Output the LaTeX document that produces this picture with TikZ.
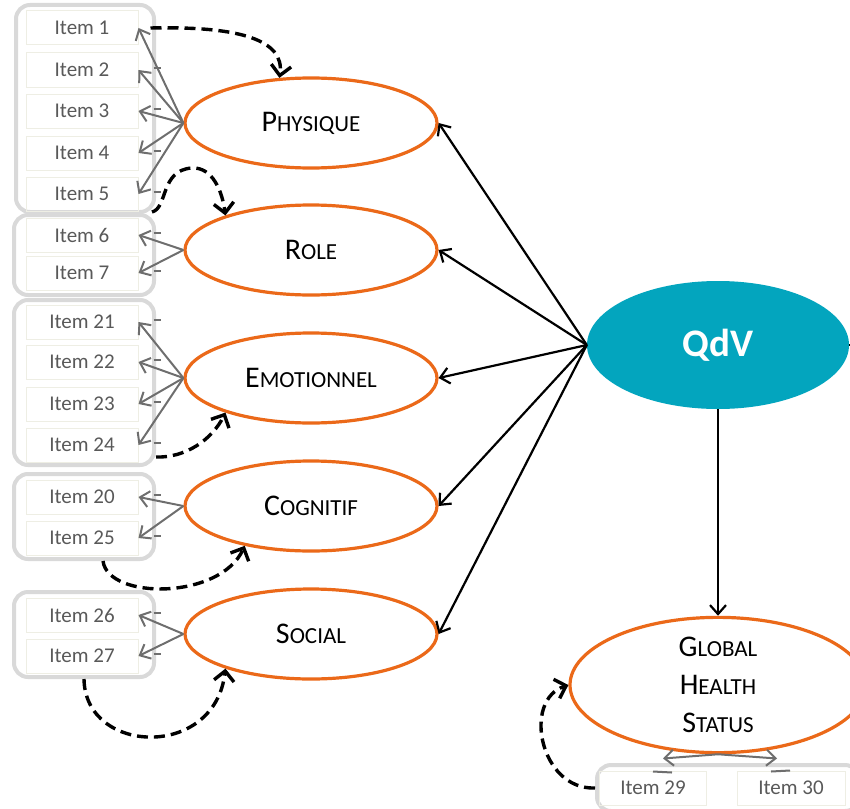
\documentclass[tikz,border=0pt]{standalone}
\usepackage{fontspec}
\setmainfont{Carlito}
\usetikzlibrary{shapes.geometric,arrows.meta}
\definecolor{qdvteal}{RGB}{3,165,190}
\definecolor{facorange}{RGB}{235,105,25}
\definecolor{boxgray}{RGB}{217,217,217}
\definecolor{itemgray}{RGB}{89,89,89}
\definecolor{itemline}{RGB}{238,238,228}
\definecolor{loadgray}{RGB}{110,110,110}
\newcommand{\smcap}[2]{{\fontsize{30}{38}\selectfont #1}{\fontsize{23}{38}\selectfont #2}}

\begin{document}
\begin{tikzpicture}[x=1pt,y=-1pt,>={Straight Barb[length=9pt,width=16pt]},
    factor/.style={ellipse,draw=facorange,line width=3.2pt,fill=white,minimum width=252pt,minimum height=90pt,inner sep=0pt,font=\fontsize{30}{38}\selectfont},
    latent/.style={ellipse,fill=qdvteal,minimum width=262pt,minimum height=128pt,text=white,font=\fontsize{39}{44}\selectfont\bfseries},
    itemgroup/.style={draw=boxgray,line width=4pt,rounded corners=14pt,inner sep=0pt},
    itembox/.style={draw=itemline,line width=1pt,minimum width=112pt,minimum height=34pt,inner sep=0pt,text=itemgray,font=\fontsize{21}{25}\selectfont},
    struct/.style={->,line width=2.2pt},
    load/.style={->,draw=loadgray,line width=2pt},
    resid/.style={draw=loadgray,line width=2pt},
    corr/.style={->,line width=3.4pt,dash pattern=on 11pt off 6pt,>={Straight Barb[length=10pt,width=20pt]}}]
    \useasboundingbox (0,0) rectangle (850,808);
    \clip (0,0) rectangle (850,808);

    % item groups
    \node[itemgroup,minimum width=138pt,minimum height=207pt] (g1) at (85,108.5) {};
    \node[itemgroup,minimum width=140pt,minimum height=80pt] (g2) at (84,255) {};
    \node[itemgroup,minimum width=140pt,minimum height=165pt] (g3) at (84,382.5) {};
    \node[itemgroup,minimum width=140pt,minimum height=85pt] (g4) at (84,516.5) {};
    \node[itemgroup,minimum width=140pt,minimum height=85pt] (g5) at (84,634.5) {};
    \node[itemgroup,minimum width=262pt,minimum height=46pt] (gb) at (728,788) {};

    % items
    \foreach \n/\y in {1/28,2/70,3/111,4/153,5/194,6/235,7/273,21/322,22/362,23/404,24/445,20/497,25/538,26/615,27/656}
        \node[itembox] (i\n) at (82,\y) {Item \n};
    \node[itembox,minimum width=107pt] (i29) at (653,788) {Item 29};
    \node[itembox,minimum width=108pt] (i30) at (791,788) {Item 30};

    % factors
    \node[factor] (phys) at (311,123) {\smcap{P}{HYSIQUE}};
    \node[factor] (role) at (311,250) {\smcap{R}{OLE}};
    \node[factor] (emot) at (311,378) {\smcap{E}{MOTIONNEL}};
    \node[factor] (cogn) at (311,506) {\smcap{C}{OGNITIF}};
    \node[factor] (soci) at (311,634) {\smcap{S}{OCIAL}};
    \node[latent] (qdv) at (718,345) {QdV};
    \node[factor,minimum width=296pt,minimum height=126pt,align=center] (ghs) at (718,685) {\smcap{G}{LOBAL}\\\smcap{H}{EALTH}\\\smcap{S}{TATUS}};

    % loadings
    \foreach \n in {1,...,5} \draw[load] (phys.west) -- (i\n.east);
    \foreach \n in {6,7} \draw[load] (role.west) -- (i\n.east);
    \foreach \n in {21,...,24} \draw[load] (emot.west) -- (i\n.east);
    \foreach \n in {20,25} \draw[load] (cogn.west) -- (i\n.east);
    \foreach \n in {26,27} \draw[load] (soci.west) -- (i\n.east);
    \foreach \n in {2,3,4,5,6,7,21,22,23,24,20,25,26,27}
        \draw[resid] ([xshift=15pt,yshift=2pt]i\n.east) -- ++(7,0);
    \draw[load] (ghs.south) -- ([xshift=10pt,yshift=12pt]i29.north);
    \draw[load] (ghs.south) -- ([xshift=-14pt,yshift=12pt]i30.north);
    \draw[resid] ([xshift=0pt,yshift=-1pt]i29.north) -- ++(19,1);
    \draw[resid] ([xshift=-20pt,yshift=-1pt]i30.north) -- ++(19,-1);

    % structural paths
    \foreach \f in {phys,role,emot,cogn,soci} \draw[struct] (qdv.west) -- (\f.east);
    \draw[struct] (qdv.south) -- (ghs.north);
    \draw[line width=2.2pt] (qdv.east) -- ++(10,0);

    % correlated residuals
    \draw[corr] ([xshift=12pt]i1.east) .. controls (240,26) and (285,40) .. (phys.125);
    \draw[corr] ([xshift=-4pt,yshift=2pt]g1.south east) .. controls (168,208) and (160,170) .. (192,168) .. controls (212,167) and (222,190) .. (role.158);
    \draw[corr] ([yshift=10pt]g3.south east) .. controls (185,458) and (212,440) .. (emot.202);
    \draw[corr] ([xshift=19pt]g4.south) .. controls (108,600) and (220,600) .. (cogn.211);
    \draw[corr] (g5.south) .. controls (85,755) and (215,760) .. (soci.202);
    \draw[corr] (gb.west) .. controls (540,790) and (522,700) .. (ghs.west);
\end{tikzpicture}
\end{document}
